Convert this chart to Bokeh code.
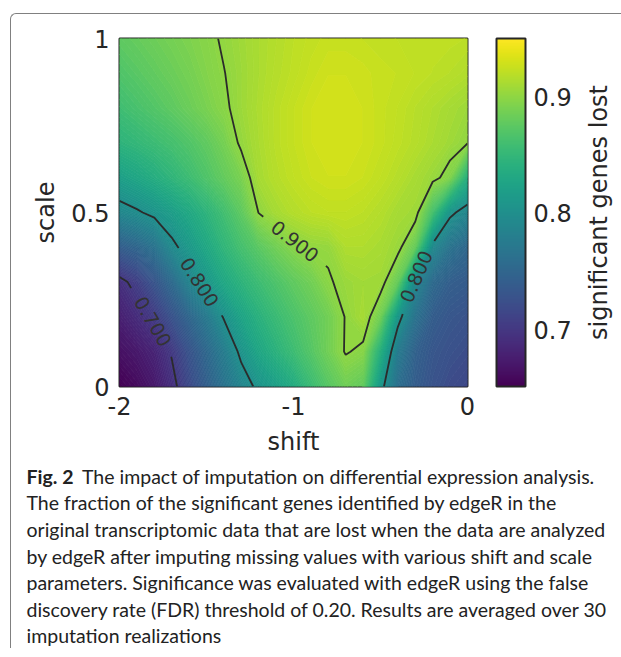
import math
import numpy as np
from contourpy import contour_generator
from bokeh.plotting import figure
from bokeh.layouts import column, row
from bokeh.models import ColorBar, FixedTicker, LinearColorMapper, Range1d
from bokeh.palettes import Viridis256
from bokeh.core.properties import value
from bokeh.embed import file_html
from bokeh.resources import INLINE

# ---------------- data ----------------
shift_values = [-2.0, -1.9, -1.8, -1.7, -1.6, -1.5, -1.4, -1.3, -1.2, -1.1, -1.0,
                -0.9, -0.8, -0.7, -0.6, -0.5, -0.4, -0.3, -0.2, -0.1, 0.0]
scale_values = [0.0, 0.1, 0.2, 0.3, 0.4, 0.5, 0.6, 0.7, 0.8, 0.9, 1.0]

# fraction of significant genes lost; one list per scale value, columns follow shift_values
lost_scale_00 = [0.652, 0.660, 0.672, 0.692, 0.718, 0.742, 0.765, 0.787, 0.806, 0.820, 0.835,
                 0.855, 0.872, 0.885, 0.878, 0.810, 0.760, 0.740, 0.728, 0.720, 0.716]
lost_scale_01 = [0.665, 0.672, 0.682, 0.702, 0.728, 0.752, 0.777, 0.806, 0.828, 0.843, 0.857,
                 0.871, 0.886, 0.9015, 0.896, 0.840, 0.775, 0.745, 0.732, 0.726, 0.722]
lost_scale_02 = [0.678, 0.690, 0.704, 0.727, 0.750, 0.773, 0.802, 0.825, 0.842, 0.855, 0.866,
                 0.876, 0.886, 0.901, 0.910, 0.885, 0.810, 0.765, 0.740, 0.732, 0.728]
lost_scale_03 = [0.693, 0.708, 0.730, 0.755, 0.785, 0.810, 0.830, 0.845, 0.857, 0.867, 0.877,
                 0.886, 0.898, 0.905, 0.908, 0.907, 0.880, 0.790, 0.755, 0.742, 0.738]
lost_scale_04 = [0.740, 0.750, 0.765, 0.793, 0.812, 0.830, 0.848, 0.862, 0.874, 0.886, 0.896,
                 0.9015, 0.903, 0.914, 0.914, 0.911, 0.905, 0.880, 0.792, 0.765, 0.752]
lost_scale_05 = [0.790, 0.797, 0.806, 0.818, 0.831, 0.845, 0.860, 0.876, 0.9005, 0.910, 0.916,
                 0.920, 0.922, 0.922, 0.920, 0.916, 0.910, 0.907, 0.862, 0.806, 0.788]
lost_scale_06 = [0.820, 0.828, 0.837, 0.847, 0.857, 0.868, 0.879, 0.890, 0.910, 0.917, 0.922,
                 0.926, 0.928, 0.928, 0.926, 0.922, 0.917, 0.911, 0.905, 0.893, 0.840]
lost_scale_07 = [0.845, 0.850, 0.856, 0.862, 0.869, 0.877, 0.888, 0.903, 0.912, 0.919, 0.924,
                 0.928, 0.930, 0.930, 0.928, 0.925, 0.921, 0.917, 0.912, 0.907, 0.901]
lost_scale_08 = [0.858, 0.864, 0.870, 0.876, 0.883, 0.890, 0.897, 0.906, 0.913, 0.919, 0.924,
                 0.928, 0.930, 0.930, 0.928, 0.925, 0.922, 0.918, 0.914, 0.910, 0.906]
lost_scale_09 = [0.868, 0.873, 0.878, 0.883, 0.888, 0.894, 0.8995, 0.906, 0.912, 0.917, 0.921,
                 0.925, 0.928, 0.928, 0.927, 0.925, 0.924, 0.922, 0.920, 0.918, 0.915]
lost_scale_10 = [0.876, 0.880, 0.884, 0.888, 0.892, 0.896, 0.902, 0.907, 0.912, 0.916, 0.920,
                 0.923, 0.925, 0.925, 0.924, 0.923, 0.922, 0.921, 0.921, 0.921, 0.920]

contour_levels = [0.7, 0.8, 0.9]
contour_label_texts = {0.7: "0.700", 0.8: "0.800", 0.9: "0.900"}
colorbar_low, colorbar_high = 0.6516, 0.95
colorbar_ticks = [0.7, 0.8, 0.9]
x_ticks = [-2, -1, 0]
y_ticks = [0, 0.5, 1]
colorbar_title = "significant genes lost"

caption_bold = "Fig. 2"
caption_lines = [
    "The impact of imputation on differential expression analysis.",
    "The fraction of the significant genes identified by edgeR in the",
    "original transcriptomic data that are lost when the data are analyzed",
    "by edgeR after imputing missing values with various shift and scale",
    "parameters. Significance was evaluated with edgeR using the false",
    "discovery rate (FDR) threshold of 0.20. Results are averaged over 30",
    "imputation realizations",
]

# label placement spots for contour labels (level, shift, scale), like manual clabel
label_spots = [(0.9, -1.0, 0.41), (0.8, -1.54, 0.30), (0.7, -1.80, 0.19), (0.8, -0.31, 0.32)]

# ---------------- geometry / style ----------------
FRAME = 348
X0, X1 = -2.0, 0.0
Y0, Y1 = 0.0, 1.0
PX_X = FRAME / (X1 - X0)
PX_Y = FRAME / (Y1 - Y0)
HALF_GAP = 40.0
TXT = "#262626"
FONT = value("DejaVu Sans")
N_FILL_BANDS = 150
BORDER_L, BORDER_T, BORDER_R, BORDER_B = 108, 24, 114, 70
XAXIS_PANEL_H = 78          # height the x axis (tick labels + title) takes below the frame
CAP_TOP_PAGE = 14 + BORDER_T + FRAME + XAXIS_PANEL_H
CAP_W, CAP_H = 600, 190
CAP_FONT_SIZE = "19.5px"

Z = np.array([lost_scale_00, lost_scale_01, lost_scale_02, lost_scale_03, lost_scale_04,
              lost_scale_05, lost_scale_06, lost_scale_07, lost_scale_08, lost_scale_09,
              lost_scale_10])
xs = np.array(shift_values)
ys = np.array(scale_values)

mapper = LinearColorMapper(palette=Viridis256, low=colorbar_low, high=colorbar_high)

p = figure(frame_width=FRAME, frame_height=FRAME,
           x_range=Range1d(X0, X1), y_range=Range1d(Y0, Y1),
           output_backend="svg", toolbar_location=None,
           min_border_left=BORDER_L, min_border_top=BORDER_T,
           min_border_bottom=BORDER_B, min_border_right=BORDER_R)
p.background_fill_color = None
p.border_fill_color = None
p.grid.visible = False
p.outline_line_color = TXT
p.outline_line_width = 2

# smooth shading: many thin filled-contour bands coloured through the colour mapper
fill_levels = np.linspace(colorbar_low, colorbar_high, N_FILL_BANDS + 1)
fgen = contour_generator(x=xs, y=ys, z=Z, fill_type="OuterOffset")
mp_xs, mp_ys, mp_col = [], [], []
for i in range(N_FILL_BANDS):
    lo, hi = float(fill_levels[i]), float(fill_levels[i + 1])
    mid = 0.5 * (lo + hi)
    k = int((mid - colorbar_low) / (colorbar_high - colorbar_low) * len(Viridis256))
    colr = Viridis256[min(max(k, 0), len(Viridis256) - 1)]
    points_list, offsets_list = fgen.filled(lo, hi)
    polys_x, polys_y = [], []
    for pts, offs in zip(points_list, offsets_list):
        pts = np.asarray(pts)
        rx = [pts[offs[j]:offs[j + 1], 0].tolist() for j in range(len(offs) - 1)]
        ry = [pts[offs[j]:offs[j + 1], 1].tolist() for j in range(len(offs) - 1)]
        if rx:
            polys_x.append(rx)
            polys_y.append(ry)
    if polys_x:
        mp_xs.append(polys_x)
        mp_ys.append(polys_y)
        mp_col.append(colr)
p.multi_polygons(xs=mp_xs, ys=mp_ys, fill_color=mp_col, line_color=mp_col, line_width=0.8)

# ---------------- contour lines with inline labels ----------------
gen = contour_generator(x=xs, y=ys, z=Z)


def to_px(pts):
    return np.column_stack([(pts[:, 0] - X0) * PX_X, (pts[:, 1] - Y0) * PX_Y])


def at(pts, S, s):
    return np.array([np.interp(s, S, pts[:, 0]), np.interp(s, S, pts[:, 1])])


line_xs, line_ys = [], []
lab_x, lab_y, lab_t, lab_a = [], [], [], []
for lv in contour_levels:
    for raw in gen.lines(lv):
        pts = np.asarray(raw, dtype=float)
        if len(pts) < 2:
            continue
        px = to_px(pts)
        keep = np.concatenate([[True], np.hypot(*np.diff(px, axis=0).T) > 1e-9])
        pts, px = pts[keep], px[keep]
        seg = np.hypot(*np.diff(px, axis=0).T)
        S = np.concatenate([[0.0], np.cumsum(seg)])
        cuts = []
        for (llv, tx, ty) in label_spots:
            if abs(llv - lv) > 1e-9:
                continue
            tp = np.array([(tx - X0) * PX_X, (ty - Y0) * PX_Y])
            best = None
            for j in range(len(px) - 1):
                a, b = px[j], px[j + 1]
                ab = b - a
                L2 = float(ab @ ab)
                t = 0.0 if L2 == 0 else max(0.0, min(1.0, float((tp - a) @ ab) / L2))
                q = a + t * ab
                d = float(np.hypot(*(q - tp)))
                if best is None or d < best[0]:
                    best = (d, S[j] + t * seg[j])
            if best is None or best[0] > 30:
                continue
            s0 = best[1]
            sa, sb = max(0.0, s0 - HALF_GAP), min(S[-1], s0 + HALF_GAP)
            pa, pb = at(px, S, sa), at(px, S, sb)
            ang = math.atan2(pb[1] - pa[1], pb[0] - pa[0])
            if ang > math.pi / 2:
                ang -= math.pi
            elif ang <= -math.pi / 2:
                ang += math.pi
            c = at(pts, S, s0)
            lab_x.append(c[0]); lab_y.append(c[1])
            lab_t.append(contour_label_texts[lv]); lab_a.append(ang)
            cuts.append((sa, sb))
        cuts.sort()
        start = 0.0
        bounds = []
        for sa, sb in cuts:
            bounds.append((start, sa))
            start = sb
        bounds.append((start, S[-1]))
        for s_start, s_end in bounds:
            if s_end - s_start < 1e-6:
                continue
            inner = [k for k in range(len(S)) if s_start < S[k] < s_end]
            piece = [at(pts, S, s_start)] + [pts[k] for k in inner] + [at(pts, S, s_end)]
            piece = np.array(piece)
            line_xs.append(piece[:, 0].tolist())
            line_ys.append(piece[:, 1].tolist())

p.multi_line(xs=line_xs, ys=line_ys, line_color="#2b2b2b", line_width=1.8)
p.text(x=lab_x, y=lab_y, text=lab_t, angle=lab_a, text_align="center",
       text_baseline="middle", text_font=FONT, text_font_size="19px", text_color="#333333")

# ---------------- axes ----------------
for ax in (p.xaxis[0], p.yaxis[0]):
    ax.axis_line_color = None
    ax.major_tick_in = 0
    ax.major_tick_out = 0
    ax.minor_tick_line_color = None
    ax.major_label_text_font = "DejaVu Sans"
    ax.major_label_text_font_size = "24px"
    ax.major_label_text_color = TXT
    ax.axis_label_text_font = "DejaVu Sans"
    ax.axis_label_text_font_size = "24px"
    ax.axis_label_text_font_style = "normal"
    ax.axis_label_text_color = TXT

p.xaxis.ticker = FixedTicker(ticks=x_ticks)
p.yaxis.ticker = FixedTicker(ticks=y_ticks)
p.xaxis.major_label_overrides = {t: str(t) for t in x_ticks}
p.yaxis.major_label_overrides = {0: "0", 0.5: "0.5", 1: "1"}
p.xaxis.axis_label = "shift"
p.yaxis.axis_label = "scale"
p.xaxis.major_label_standoff = 10
p.xaxis.axis_label_standoff = 10
p.yaxis.major_label_standoff = 10
p.yaxis.axis_label_standoff = 8

# ---------------- colour bar (placed beside the frame) ----------------
CB_OFFSET = 377  # px from the frame's left edge to the bar
cb = ColorBar(color_mapper=mapper, ticker=FixedTicker(ticks=colorbar_ticks),
              width=29, height=FRAME, location=(CB_OFFSET, 0), margin=0, padding=0,
              bar_line_color=TXT, bar_line_width=2, border_line_color=None,
              background_fill_color=None, background_fill_alpha=0,
              major_tick_line_color=None, minor_tick_line_color=None,
              major_label_text_font="DejaVu Sans", major_label_text_font_size="24px",
              major_label_text_color=TXT, label_standoff=8)
p.add_layout(cb, "center")

# colour bar title: the label of a tick-less left axis on a slim companion figure
t = figure(frame_width=10, frame_height=FRAME, x_range=Range1d(0, 1), y_range=Range1d(0, 1),
           output_backend="svg", toolbar_location=None,
           min_border_left=0, min_border_right=0, min_border_top=BORDER_T,
           min_border_bottom=BORDER_B, x_axis_location=None, y_axis_location="left")
t.grid.visible = False
t.outline_line_color = None
t.background_fill_color = None
t.border_fill_color = None
ta = t.yaxis[0]
ta.ticker = FixedTicker(ticks=[])
ta.axis_label = colorbar_title
ta.axis_line_color = None
ta.major_tick_line_color = None
ta.minor_tick_line_color = None
ta.major_tick_in = 0
ta.major_tick_out = 0
ta.major_label_standoff = 0
ta.axis_label_standoff = 0
ta.axis_label_text_font = "DejaVu Sans"
ta.axis_label_text_font_size = "24px"
ta.axis_label_text_font_style = "normal"
ta.axis_label_text_color = TXT

# ---------------- caption ----------------
cap = figure(width=CAP_W, height=CAP_H, x_range=Range1d(0, CAP_W), y_range=Range1d(0, CAP_H),
             output_backend="svg", toolbar_location=None, min_border=0,
             x_axis_location=None, y_axis_location=None)
cap.grid.visible = False
cap.outline_line_color = None
cap.background_fill_color = None
cap.border_fill_color = None

for fig in (p, t, cap):
    if "frame_align" in fig.properties():
        fig.frame_align = False

# caption geometry (px inside the caption canvas, which starts right under the chart)
CAP_LEFT, CAP_AFTER_BOLD, CAP_STEP = 15, 70.5, 26.62
CAP_FIRST_BASE = 481.7 - CAP_TOP_PAGE
cap_x = [CAP_AFTER_BOLD if i == 0 else CAP_LEFT for i in range(len(caption_lines))]
cap_y = [CAP_H - (CAP_FIRST_BASE + i * CAP_STEP) for i in range(len(caption_lines))]
cap.text(x=cap_x, y=cap_y, text=caption_lines, text_font=value("Lato"),
         text_font_size=CAP_FONT_SIZE, text_color="#222222", text_align="left",
         text_baseline="alphabetic")
cap.text(x=[CAP_LEFT], y=[cap_y[0]], text=[caption_bold], text_font=value("Lato"),
         text_font_size=CAP_FONT_SIZE, text_font_style="bold", text_color="#222222",
         text_align="left", text_baseline="alphabetic")

layout = column(row(p, t, spacing=0), cap, spacing=0, margin=(13, 0, 0, 10),
                styles={"border-top": "1px solid #808080", "border-left": "1px solid #808080",
                        "border-top-left-radius": "6px"})

open("out.html", "w").write(file_html(layout, INLINE))
